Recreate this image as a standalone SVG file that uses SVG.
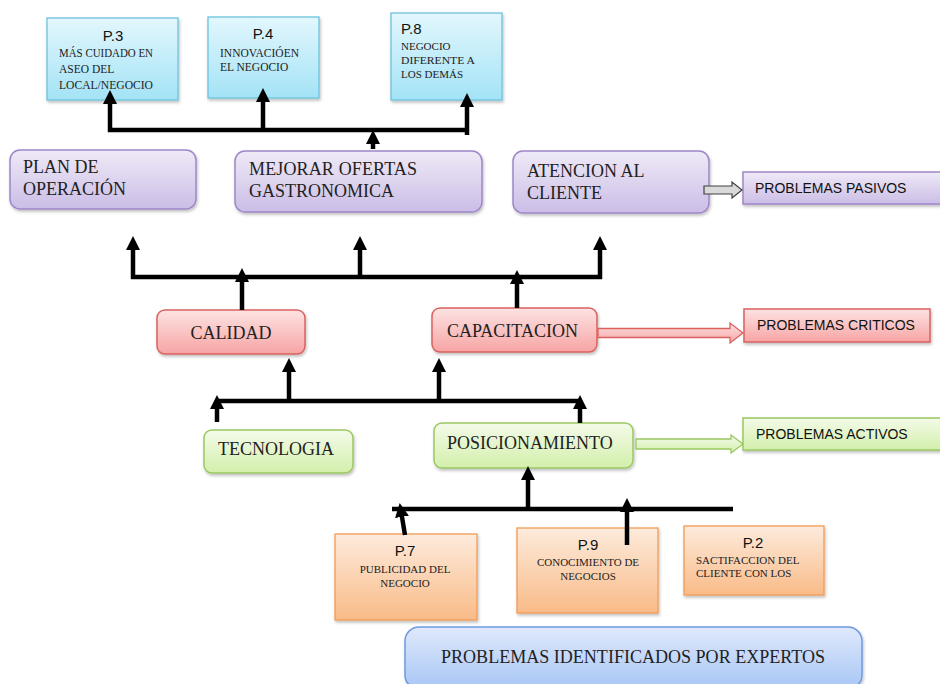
<svg xmlns="http://www.w3.org/2000/svg" width="940" height="684" viewBox="0 0 940 684">
<defs>
<linearGradient id="gBlue" x1="0" y1="0" x2="0" y2="1"><stop offset="0" stop-color="#e3f7fd"/><stop offset="1" stop-color="#a3e3f6"/></linearGradient>
<linearGradient id="gPurple" x1="0" y1="0" x2="0" y2="1"><stop offset="0" stop-color="#efeaf7"/><stop offset="1" stop-color="#cbbde6"/></linearGradient>
<linearGradient id="gRed" x1="0" y1="0" x2="0" y2="1"><stop offset="0" stop-color="#fde3e3"/><stop offset="1" stop-color="#f7a4a4"/></linearGradient>
<linearGradient id="gGreen" x1="0" y1="0" x2="0" y2="1"><stop offset="0" stop-color="#f4fbe9"/><stop offset="1" stop-color="#d3efab"/></linearGradient>
<linearGradient id="gOrange" x1="0" y1="0" x2="0" y2="1"><stop offset="0" stop-color="#fdebdc"/><stop offset="1" stop-color="#f9bb88"/></linearGradient>
<linearGradient id="gBlue2" x1="0" y1="0" x2="0" y2="1"><stop offset="0" stop-color="#dfe9fc"/><stop offset="1" stop-color="#a8c6f5"/></linearGradient>
<filter id="sh" x="-10%" y="-10%" width="120%" height="130%"><feDropShadow dx="1" dy="2" stdDeviation="1.5" flood-color="#000" flood-opacity="0.25"/></filter>
<marker id="ah" markerUnits="userSpaceOnUse" viewBox="0 0 14 14" markerWidth="14" markerHeight="14" refX="6" refY="7" orient="auto"><path d="M0,0 L14,7 L0,14 z" fill="#000"/></marker>
<style>
.blue{fill:url(#gBlue);stroke:#6cc3dc;stroke-width:1.3;filter:url(#sh)}
.purple{fill:url(#gPurple);stroke:#9f86c9;stroke-width:1.5;filter:url(#sh)}
.red{fill:url(#gRed);stroke:#d9625f;stroke-width:1.5;filter:url(#sh)}
.green{fill:url(#gGreen);stroke:#9bc862;stroke-width:1.5;filter:url(#sh)}
.orange{fill:url(#gOrange);stroke:#f29b55;stroke-width:1.3;filter:url(#sh)}
.blue2{fill:url(#gBlue2);stroke:#6f9be0;stroke-width:1.5;filter:url(#sh)}
.pn{font-family:"Liberation Sans","Open Sans",sans-serif;font-size:15px;fill:#111}
.sm{font-family:"Liberation Serif",serif;font-size:11.5px;fill:#222}
.sm10{font-family:"Liberation Serif",serif;font-size:11px;fill:#222}
.big{font-family:"Liberation Serif",serif;font-size:18px;fill:#222}
.lab{font-family:"Liberation Sans","Open Sans",sans-serif;font-size:14px;fill:#111}
.c{fill:none;stroke:#000;stroke-width:4.5}
.ca{fill:none;stroke:#000;stroke-width:4.5;marker-end:url(#ah)}
</style>
</defs>

<g id="p3"><rect class="blue" x="47" y="18" width="131" height="82"/><text class="pn" x="113" y="41" text-anchor="middle">P.3</text><text class="sm" x="59" y="57" textLength="94" lengthAdjust="spacingAndGlyphs">MÁS CUIDADO EN</text><text class="sm" x="59" y="73">ASEO DEL</text><text class="sm" x="59" y="89" textLength="94" lengthAdjust="spacingAndGlyphs">LOCAL/NEGOCIO</text></g>
<g id="p4"><rect class="blue" x="208" y="17" width="111" height="81"/><text class="pn" x="263" y="39" text-anchor="middle">P.4</text><text class="sm" x="220" y="57">INNOVACIÓEN</text><text class="sm" x="220" y="71">EL NEGOCIO</text></g>
<g id="p8"><rect class="blue" x="391" y="13" width="111" height="87"/><text class="pn" x="401" y="34">P.8</text><text class="sm10" x="401" y="50">NEGOCIO</text><text class="sm10" x="401" y="64" textLength="74" lengthAdjust="spacingAndGlyphs">DIFERENTE A</text><text class="sm10" x="401" y="78">LOS DEMÁS</text></g>

<g id="plan"><rect class="purple" x="10" y="150" width="186" height="59" rx="10"/><text class="big" x="23" y="173">PLAN DE</text><text class="big" x="23" y="195">OPERACIÓN</text></g>
<g id="mejorar"><rect class="purple" x="235" y="151" width="247" height="61" rx="10"/><text class="big" x="249" y="175" textLength="168" lengthAdjust="spacing">MEJORAR  OFERTAS</text><text class="big" x="249" y="197">GASTRONOMICA</text></g>
<g id="atencion"><rect class="purple" x="513" y="151" width="196" height="62" rx="10"/><text class="big" x="527" y="177">ATENCION  AL</text><text class="big" x="527" y="199">CLIENTE</text></g>
<g id="pasivos"><rect class="purple" x="743" y="172" width="205" height="32"/><text class="lab" x="755" y="193">PROBLEMAS PASIVOS</text></g>

<g id="calidad"><rect class="red" x="157" y="310" width="148" height="44" rx="8"/><text class="big" x="231" y="339" text-anchor="middle">CALIDAD</text></g>
<g id="capacitacion"><rect class="red" x="432" y="308" width="165" height="44" rx="8"/><text class="big" x="447" y="337">CAPACITACION</text></g>
<g id="criticos"><rect class="red" x="744" y="309" width="186" height="33"/><text class="lab" x="757" y="330">PROBLEMAS CRITICOS</text></g>

<g id="tecnologia"><rect class="green" x="204" y="430" width="149" height="43" rx="8"/><text class="big" x="218" y="455">TECNOLOGIA</text></g>
<g id="posicionamiento"><rect class="green" x="434" y="423" width="199" height="45" rx="8"/><text class="big" x="447" y="449">POSICIONAMIENTO</text></g>
<g id="activos"><rect class="green" x="743" y="418" width="205" height="32"/><text class="lab" x="756" y="439">PROBLEMAS ACTIVOS</text></g>

<g id="p7"><rect class="orange" x="335" y="534" width="142" height="86"/><text class="pn" x="405" y="556" text-anchor="middle">P.7</text><text class="sm10" x="405" y="573" text-anchor="middle">PUBLICIDAD DEL</text><text class="sm10" x="405" y="587" text-anchor="middle">NEGOCIO</text></g>
<g id="p9"><rect class="orange" x="517" y="528" width="141" height="85"/><text class="pn" x="588" y="550" text-anchor="middle">P.9</text><text class="sm10" x="588" y="566" text-anchor="middle">CONOCIMIENTO DE</text><text class="sm10" x="588" y="580" text-anchor="middle">NEGOCIOS</text></g>
<g id="p2"><rect class="orange" x="684" y="526" width="140" height="69"/><text class="pn" x="753" y="548" text-anchor="middle">P.2</text><text class="sm10" x="696" y="564">SACTIFACCION DEL</text><text class="sm10" x="696" y="577">CLIENTE CON LOS</text></g>

<g id="expertos"><rect class="blue2" x="405" y="627" width="457" height="62" rx="14"/><text class="big" x="441" y="663" textLength="384" lengthAdjust="spacingAndGlyphs">PROBLEMAS  IDENTIFICADOS  POR EXPERTOS</text></g>

<g id="connectors">
<path class="c" d="M108,130 H469"/>
<path class="ca" d="M110,132 V98"/>
<path class="ca" d="M263,130 V96"/>
<path class="ca" d="M467,135 V101"/>
<path class="ca" d="M373,149 V138"/>

<path class="c" d="M131,277 H602"/>
<path class="ca" d="M133,279 V244"/>
<path class="ca" d="M360,277 V244"/>
<path class="ca" d="M600,279 V244"/>
<path class="ca" d="M242,310 V276"/>
<path class="ca" d="M517,308 V278"/>

<path class="c" d="M215,401 H582"/>
<path class="ca" d="M289,401 V366"/>
<path class="ca" d="M439,401 V366"/>
<path class="ca" d="M217,422 V403"/>
<path class="ca" d="M580,423 V403"/>

<path class="c" d="M392,509 H733"/>
<path class="ca" d="M528,509 V474"/>
<path class="ca" d="M627,545 V506"/>
<path class="ca" d="M405,535 L401,511"/>

<path d="M704,186 H732 V182 L742,190 L732,198 V194 H704 Z" fill="#d9d9d9" stroke="#404040" stroke-width="1.2"/>
<path d="M598,328.5 H730 V323 L743,333 L730,343 V337.5 H598 Z" fill="url(#gRed)" stroke="#d9625f" stroke-width="1.3"/>
<path d="M636,439 H731 V435 L743,444 L731,453 V449 H636 Z" fill="url(#gGreen)" stroke="#9bc862" stroke-width="1.3"/>
</g>
</svg>
